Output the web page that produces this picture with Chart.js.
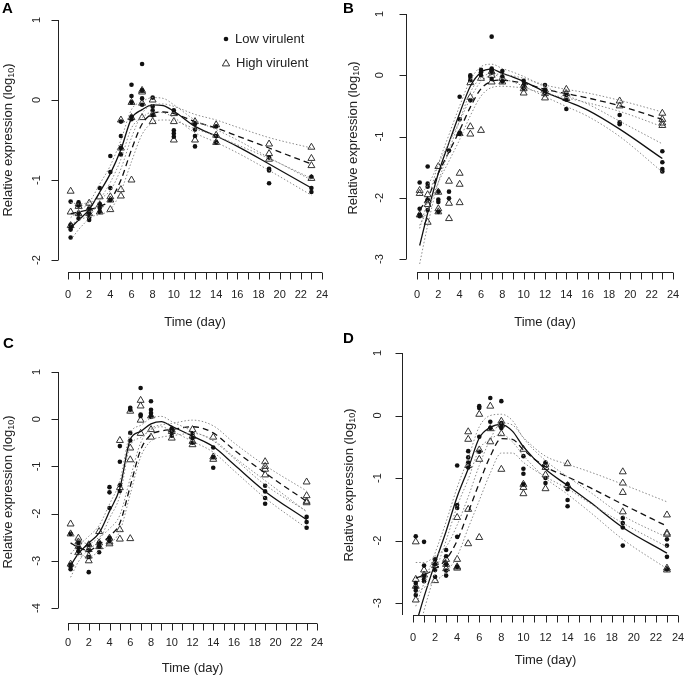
<!DOCTYPE html>
<html>
<head>
<meta charset="utf-8">
<script src="https://cdn.jsdelivr.net/npm/chart.js@4"></script>
<style>
  body { margin: 0; background: #fff; }
  #wrap { position: relative; width: 685px; height: 676px; }
  canvas { position: absolute; }
</style>
</head>
<body>
<div id="wrap">
  <canvas id="cA" width="340" height="330" style="left:0;top:0"></canvas>
  <canvas id="cB" width="345" height="330" style="left:340px;top:0"></canvas>
  <canvas id="cC" width="340" height="346" style="left:0;top:330px"></canvas>
  <canvas id="cD" width="345" height="346" style="left:340px;top:330px"></canvas>
</div>
<script>
// sampling days (x of the dots / triangles)
const days = [0.25, 1, 2, 3, 4, 5, 6, 7, 8, 10, 12, 14, 19, 23];
// x grid of the fitted curves
const fitX = [0.25, 1, 2, 3, 4, 5, 6, 7, 8, 9, 10, 12, 14, 16, 19, 23];
const xTicks = [0,1,2,3,4,5,6,7,8,9,10,11,12,13,14,15,16,17,18,19,20,21,22,23,24];
const xLabels = [0, 2, 4, 6, 8, 10, 12, 14, 16, 18, 20, 22, 24];

// ---- panel A
const aYTicks = [1, 0, -1, -2];
const aLow = [
  [-1.27, -1.56, -1.59, -1.62, -1.72], [-1.28, -1.32, -1.42, -1.48], [-1.36, -1.42, -1.47, -1.5],
  [-1.1, -1.3, -1.35, -1.4], [-0.7, -0.9, -1.1, -1.25], [-0.27, -0.45, -0.6, -0.68],
  [0.19, 0.05, -0.03, -0.21, -0.24], [0.45, 0.12, 0.02, -0.06], [0.03, -0.08, -0.13, -0.19],
  [-0.13, -0.38, -0.42, -0.46], [-0.3, -0.37, -0.45, -0.58], [-0.33, -0.45, -0.53],
  [-0.72, -0.86, -0.88, -1.04], [-0.96, -1.1, -1.15]
];
const aHigh = [
  [-1.14, -1.4, -1.57], [-1.3, -1.33, -1.42], [-1.29, -1.36, -1.42], [-1.21, -1.31, -1.4],
  [-1.21, -1.25, -1.37], [-0.25, -0.6, -1.12, -1.2], [-0.03, -0.22, -1.0], [0.12, 0.1, -0.04, -0.22],
  [0.0, -0.18, -0.27], [-0.17, -0.27, -0.5], [-0.27, -0.5], [-0.31, -0.44, -0.53],
  [-0.55, -0.67, -0.74], [-0.59, -0.73, -0.82, -0.98]
];
const aFitLow   = [-1.6, -1.5, -1.37, -1.15, -0.92, -0.62, -0.23, -0.12, -0.06, -0.07, -0.14, -0.33, -0.45, -0.58, -0.8, -1.1];
const aFitLowUp = [-1.47, -1.39, -1.28, -1.05, -0.82, -0.5, -0.12, -0.02, 0.03, 0.02, -0.06, -0.25, -0.37, -0.5, -0.72, -1.0];
const aFitLowDn = [-1.75, -1.62, -1.47, -1.25, -1.03, -0.74, -0.35, -0.22, -0.15, -0.16, -0.22, -0.41, -0.53, -0.66, -0.88, -1.19];
const aFitHigh   = [-1.42, -1.4, -1.37, -1.33, -1.25, -1.0, -0.62, -0.3, -0.17, -0.15, -0.17, -0.27, -0.35, -0.45, -0.6, -0.8];
const aFitHighUp = [-1.28, -1.3, -1.28, -1.23, -1.13, -0.86, -0.47, -0.17, -0.06, -0.05, -0.08, -0.18, -0.25, -0.34, -0.47, -0.6];
const aFitHighDn = [-1.56, -1.5, -1.46, -1.43, -1.37, -1.14, -0.77, -0.43, -0.28, -0.25, -0.26, -0.36, -0.45, -0.56, -0.73, -0.98];

// ---- panel B
const bYTicks = [1, 0, -1, -2, -3];
const bLow = [
  [-1.75, -2.18, -2.28, -2.3], [-1.49, -1.77, -1.82, -2.03, -2.2], [-1.9, -2.03, -2.07, -2.23],
  [-1.23, -1.9, -2.01], [-0.35, -0.72, -0.94, -0.96], [0.0, -0.03, -0.08, -0.41], [0.09, 0.05, 0.0],
  [0.63, 0.11, 0.08, 0.04, -0.06], [0.07, -0.02, -0.1], [-0.09, -0.17, -0.21], [-0.16, -0.24, -0.29],
  [-0.32, -0.4, -0.55], [-0.65, -0.77, -0.8], [-1.24, -1.42, -1.53, -1.57]
];
const bHigh = [
  [-1.88, -1.93, -2.28], [-1.95, -2.05, -2.11, -2.4], [-1.49, -1.91, -2.18, -2.23], [-1.73, -2.09, -2.34],
  [-0.95, -1.6, -1.78, -2.08], [-0.12, -0.36, -0.84, -0.96], [-0.05, -0.9], [0.06, 0.0, -0.11],
  [-0.05, -0.11], [-0.17, -0.22, -0.29], [-0.24, -0.3, -0.37], [-0.23, -0.3, -0.38], [-0.42, -0.5],
  [-0.62, -0.72, -0.78, -0.82]
];
const bFitLow   = [-2.78, -2.25, -1.6, -1.1, -0.62, -0.18, 0.05, 0.1, 0.03, -0.03, -0.1, -0.27, -0.42, -0.57, -0.88, -1.36];
const bFitLowUp = [-2.5, -2.05, -1.45, -0.97, -0.5, -0.08, 0.14, 0.18, 0.11, 0.05, -0.02, -0.19, -0.33, -0.47, -0.75, -1.12];
const bFitLowDn = [-3.08, -2.45, -1.75, -1.23, -0.74, -0.28, -0.04, 0.02, -0.05, -0.11, -0.18, -0.35, -0.51, -0.67, -1.0, -1.58];
const bFitHigh   = [-2.2, -2.0, -1.6, -1.25, -0.9, -0.52, -0.22, -0.1, -0.08, -0.1, -0.13, -0.23, -0.3, -0.37, -0.5, -0.72];
const bFitHighUp = [-1.95, -1.8, -1.45, -1.1, -0.75, -0.38, -0.1, 0.0, 0.02, -0.01, -0.05, -0.16, -0.23, -0.29, -0.41, -0.6];
const bFitHighDn = [-2.45, -2.2, -1.75, -1.4, -1.05, -0.66, -0.34, -0.2, -0.18, -0.19, -0.21, -0.3, -0.37, -0.45, -0.59, -0.84];

// ---- panel C
const cYTicks = [1, 0, -1, -2, -3, -4];
const cLow = [
  [-2.43, -3.08, -3.12, -3.18], [-2.62, -2.72, -2.8], [-2.66, -2.78, -2.92, -3.24], [-2.62, -2.7, -2.82],
  [-1.44, -1.55, -1.88, -2.52, -2.58], [-0.57, -0.9, -1.4, -1.52], [0.24, 0.2, -0.29, -0.45],
  [0.66, 0.1, 0.07], [0.38, 0.2, 0.13, 0.05], [-0.2, -0.26, -0.35], [-0.3, -0.4, -0.5],
  [-0.6, -0.8, -1.03], [-1.41, -1.53, -1.67, -1.79], [-2.07, -2.18, -2.3]
];
const cHigh = [
  [-2.22, -2.43, -3.07], [-2.52, -2.6, -2.7, -2.82], [-2.66, -2.76, -2.9, -3.0], [-2.38, -2.62, -2.7],
  [-2.52, -2.6, -2.64], [-0.45, -1.45, -2.34, -2.54], [0.17, -0.61, -0.86, -2.53], [0.4, 0.28, -0.02, -0.3],
  [0.07, -0.22, -0.38], [-0.22, -0.26, -0.4], [-0.22, -0.36, -0.47, -0.54], [-0.38, -0.8, -0.85],
  [-0.9, -1.0, -1.06, -1.18], [-1.33, -1.62, -1.74, -1.77]
];
const cFitLow   = [-3.1, -2.85, -2.62, -2.41, -1.95, -1.46, -0.43, -0.26, -0.1, -0.05, -0.15, -0.36, -0.58, -0.96, -1.53, -2.13];
const cFitLowUp = [-2.85, -2.68, -2.48, -2.25, -1.8, -1.3, -0.3, -0.13, 0.02, 0.06, -0.05, -0.25, -0.46, -0.83, -1.39, -1.95];
const cFitLowDn = [-3.35, -3.02, -2.76, -2.57, -2.1, -1.62, -0.56, -0.39, -0.22, -0.16, -0.25, -0.47, -0.7, -1.09, -1.67, -2.31];
const cFitHigh   = [-2.62, -2.72, -2.78, -2.65, -2.48, -2.2, -1.42, -0.65, -0.33, -0.25, -0.22, -0.16, -0.29, -0.65, -1.14, -1.74];
const cFitHighUp = [-2.4, -2.55, -2.64, -2.5, -2.32, -2.03, -1.25, -0.5, -0.2, -0.12, -0.09, -0.02, -0.14, -0.5, -0.98, -1.52];
const cFitHighDn = [-2.84, -2.89, -2.92, -2.8, -2.64, -2.37, -1.59, -0.8, -0.46, -0.38, -0.35, -0.3, -0.44, -0.8, -1.3, -1.96];

// ---- panel D
const dYTicks = [1, 0, -1, -2, -3];
const dLow = [
  [-1.93, -2.68, -2.75, -2.8, -2.87], [-2.02, -2.4, -2.56, -2.62, -2.65], [-2.3, -2.38, -2.47, -2.58],
  [-2.15, -2.25, -2.38, -2.48, -2.56], [-0.8, -1.43, -1.48, -1.94, -2.42], [-0.57, -0.67, -0.75, -0.83],
  [0.15, 0.12, -0.34, -0.58], [0.28, -0.1, -0.2], [0.23, -0.12, -0.18, -0.2], [-0.65, -0.85, -0.93, -1.1],
  [-0.75, -1.0, -1.08], [-1.1, -1.18, -1.35, -1.45], [-1.64, -1.72, -1.79, -2.08], [-1.98, -2.08, -2.26, -2.46]
];
const dHigh = [
  [-2.02, -2.62, -2.73, -2.95], [-2.47, -2.55], [-2.35, -2.4, -2.64], [-2.3, -2.38, -2.45],
  [-1.63, -2.3, -2.42, -2.44], [-0.26, -0.38, -0.8, -1.5, -2.05], [0.02, -0.55, -0.7, -1.95],
  [0.15, -0.21, -0.42], [-0.09, -0.15, -0.29, -0.86], [-0.54, -1.1, -1.15, -1.25], [-0.78, -0.83, -0.95, -1.17],
  [-0.77, -1.12], [-0.9, -1.08, -1.23, -1.54], [-1.59, -1.88, -1.9, -2.44, -2.47]
];
const dFitLow   = [-3.35, -2.9, -2.36, -1.85, -1.3, -0.85, -0.36, -0.19, -0.14, -0.25, -0.5, -0.86, -1.12, -1.38, -1.79, -2.2];
const dFitLowUp = [-3.05, -2.68, -2.2, -1.7, -1.15, -0.68, -0.18, 0.0, 0.02, -0.08, -0.36, -0.72, -0.98, -1.22, -1.6, -1.95];
const dFitLowDn = [-3.65, -3.12, -2.52, -2.0, -1.45, -1.02, -0.54, -0.38, -0.3, -0.42, -0.64, -1.0, -1.26, -1.54, -1.98, -2.45];
const dFitHigh   = [-2.6, -2.55, -2.45, -2.3, -2.0, -1.55, -1.08, -0.65, -0.37, -0.38, -0.55, -0.82, -0.98, -1.15, -1.42, -1.77];
const dFitHighUp = [-2.35, -2.35, -2.25, -2.1, -1.75, -1.3, -0.8, -0.38, -0.12, -0.15, -0.35, -0.65, -0.78, -0.9, -1.1, -1.38];
const dFitHighDn = [-2.85, -2.75, -2.65, -2.5, -2.25, -1.8, -1.36, -0.92, -0.6, -0.6, -0.75, -0.98, -1.17, -1.4, -1.72, -2.1];

const FONT = '"Liberation Sans", Arial, sans-serif';
const INK = '#222';

function pts(vals) {
  return days.flatMap((d, i) => vals[i].map(v => ({ x: d, y: v })));
}
function curve(vals) {
  return fitX.map((x, i) => ({ x: x, y: vals[i] }));
}

function triangle(ctx, x, y, r) {
  ctx.beginPath();
  ctx.moveTo(x, y - r);
  ctx.lineTo(x + r * 0.92, y + r * 0.6);
  ctx.lineTo(x - r * 0.92, y + r * 0.6);
  ctx.closePath();
  ctx.stroke();
}

function drawPanel(p) {
  const cv = document.getElementById(p.id);
  const W = cv.width, H = cv.height;
  const clip = p.clipBottom ? { left: false, top: false, right: false, bottom: 0 } : false;

  const line = (vals, kind) => ({
    data: curve(vals),
    showLine: true,
    pointRadius: 0,
    borderColor: kind === 'band' ? '#8a8a8a' : '#111',
    borderWidth: kind === 'band' ? 1 : 1.3,
    borderDash: kind === 'band' ? [1.5, 2] : (kind === 'dash' ? [6, 4] : []),
    cubicInterpolationMode: 'monotone',
    clip: clip
  });

  const rAxes = {
    id: 'rAxes',
    afterDraw(chart) {
      const ctx = chart.ctx, xs = chart.scales.x, ys = chart.scales.y;
      const area = chart.chartArea;
      ctx.save();
      ctx.strokeStyle = INK;
      ctx.fillStyle = INK;
      ctx.lineWidth = 1;

      // y axis
      const ax = p.yAxisX + 0.5;
      const yTop = ys.getPixelForValue(p.yTicks[0]);
      const yBot = p.clipBottom ? area.bottom : ys.getPixelForValue(p.yTicks[p.yTicks.length - 1]);
      ctx.beginPath();
      ctx.moveTo(ax, yTop); ctx.lineTo(ax, yBot);
      p.yTicks.forEach(t => {
        const y = Math.round(ys.getPixelForValue(t)) + 0.5;
        ctx.moveTo(ax, y); ctx.lineTo(ax - 7, y);
      });
      ctx.stroke();
      ctx.font = '11px ' + FONT;
      ctx.textAlign = 'center';
      ctx.textBaseline = 'middle';
      p.yTicks.forEach(t => {
        ctx.save();
        ctx.translate(p.yLabX, ys.getPixelForValue(t));
        ctx.rotate(-Math.PI / 2);
        ctx.fillText(String(t), 0, 0);
        ctx.restore();
      });

      // x axis
      const ay = p.xAxisY + 0.5;
      ctx.beginPath();
      ctx.moveTo(xs.getPixelForValue(0), ay); ctx.lineTo(xs.getPixelForValue(24), ay);
      xTicks.forEach(t => {
        const x = Math.round(xs.getPixelForValue(t)) + 0.5;
        ctx.moveTo(x, ay); ctx.lineTo(x, ay + 7);
      });
      ctx.stroke();
      xLabels.forEach(t => ctx.fillText(String(t), xs.getPixelForValue(t), p.xLabY));

      // titles
      ctx.font = '13px ' + FONT;
      ctx.fillText('Time (day)', xs.getPixelForValue(12), p.titleY);

      ctx.save();
      ctx.translate(p.ytX, p.ytY);
      ctx.rotate(-Math.PI / 2);
      const main = 'Relative expression (log';
      ctx.font = '13px ' + FONT;
      const w1 = ctx.measureText(main).width;
      ctx.font = '9px ' + FONT;
      const w2 = ctx.measureText('10').width;
      ctx.font = '13px ' + FONT;
      const w3 = ctx.measureText(')').width;
      let sx = -(w1 + w2 + w3) / 2;
      ctx.textAlign = 'left';
      ctx.fillText(main, sx, 0);
      ctx.font = '9px ' + FONT;
      ctx.fillText('10', sx + w1, 4);
      ctx.font = '13px ' + FONT;
      ctx.fillText(')', sx + w1 + w2, 0);
      ctx.restore();

      // panel letter
      ctx.font = 'bold 15px ' + FONT;
      ctx.textAlign = 'left';
      ctx.fillStyle = '#000';
      ctx.fillText(p.letter, p.letX, p.letY);

      // legend (panel A only)
      if (p.legend) {
        ctx.fillStyle = '#111';
        ctx.beginPath();
        ctx.arc(226, 39, 2.3, 0, Math.PI * 2);
        ctx.fill();
        ctx.strokeStyle = '#333';
        triangle(ctx, 226, 63.5, 4);
        ctx.fillStyle = INK;
        ctx.font = '13px ' + FONT;
        ctx.fillText('Low virulent', 235, 39);
        ctx.fillText('High virulent', 236, 63);
      }
      ctx.restore();
    }
  };

  new Chart(cv, {
    type: 'scatter',
    data: {
      datasets: [
        line(p.fitLowUp, 'band'), line(p.fitLowDn, 'band'),
        line(p.fitHighUp, 'band'), line(p.fitHighDn, 'band'),
        line(p.fitHigh, 'dash'), line(p.fitLow, 'solid'),
        {
          label: 'Low virulent', data: pts(p.low), pointStyle: 'circle', pointRadius: 2.3,
          backgroundColor: '#111', borderColor: '#111', borderWidth: 0, clip: false
        },
        {
          label: 'High virulent', data: pts(p.high), pointStyle: 'triangle', pointRadius: 4,
          backgroundColor: 'rgba(0,0,0,0)', borderColor: '#333', borderWidth: 1, clip: false
        }
      ]
    },
    options: {
      responsive: false,
      animation: false,
      events: [],
      layout: { padding: { left: p.left, right: W - p.right, top: p.top, bottom: H - p.bottom } },
      scales: {
        x: { type: 'linear', min: 0, max: 24, display: false },
        y: { type: 'linear', min: p.yMin, max: 1, display: false }
      },
      plugins: { legend: { display: false }, tooltip: { enabled: false } }
    },
    plugins: [rAxes]
  });
}

drawPanel({
  id: 'cA', letter: 'A', letX: 2, letY: 9, legend: true, yTicks: aYTicks, yMin: -2,
  left: 68, right: 322, top: 20, bottom: 260,
  yAxisX: 58, yLabX: 37, xAxisY: 272, xLabY: 295, titleY: 322, ytX: 8, ytY: 140,
  low: aLow, high: aHigh, fitLow: aFitLow, fitLowUp: aFitLowUp, fitLowDn: aFitLowDn,
  fitHigh: aFitHigh, fitHighUp: aFitHighUp, fitHighDn: aFitHighDn
});
drawPanel({
  id: 'cB', letter: 'B', letX: 3, letY: 9, yTicks: bYTicks, yMin: -3,
  left: 77, right: 333, top: 14, bottom: 259,
  yAxisX: 66, yLabX: 40, xAxisY: 272, xLabY: 295, titleY: 322, ytX: 13, ytY: 138,
  low: bLow, high: bHigh, fitLow: bFitLow, fitLowUp: bFitLowUp, fitLowDn: bFitLowDn,
  fitHigh: bFitHigh, fitHighUp: bFitHighUp, fitHighDn: bFitHighDn
});
drawPanel({
  id: 'cC', letter: 'C', letX: 3, letY: 14, yTicks: cYTicks, yMin: -4,
  left: 68, right: 317, top: 42, bottom: 278,
  yAxisX: 58, yLabX: 37, xAxisY: 293, xLabY: 313, titleY: 338, ytX: 8, ytY: 162,
  low: cLow, high: cHigh, fitLow: cFitLow, fitLowUp: cFitLowUp, fitLowDn: cFitLowDn,
  fitHigh: cFitHigh, fitHighUp: cFitHighUp, fitHighDn: cFitHighDn
});
drawPanel({
  id: 'cD', letter: 'D', letX: 3, letY: 9, yTicks: dYTicks, yMin: -3.19, clipBottom: true,
  left: 73, right: 338, top: 23, bottom: 285,
  yAxisX: 62, yLabX: 38, xAxisY: 285, xLabY: 308, titleY: 330, ytX: 9, ytY: 155,
  low: dLow, high: dHigh, fitLow: dFitLow, fitLowUp: dFitLowUp, fitLowDn: dFitLowDn,
  fitHigh: dFitHigh, fitHighUp: dFitHighUp, fitHighDn: dFitHighDn
});
</script>
</body>
</html>
